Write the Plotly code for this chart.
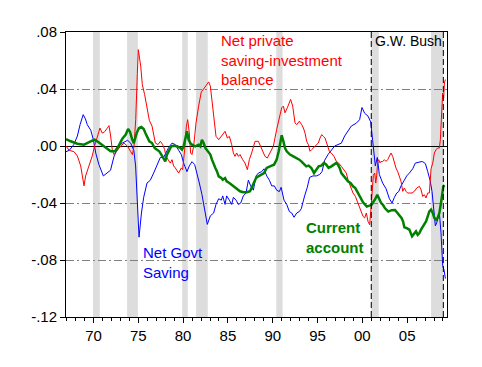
import plotly.graph_objects as go

# ---------------- data ----------------
gov_years = [1966.93, 1967.3, 1967.8, 1968.2, 1968.5, 1968.85, 1969.1, 1969.3, 1969.7, 1970.0,
             1970.25, 1970.6, 1971.1, 1971.5, 1971.9, 1972.3, 1972.85, 1973.2, 1973.8, 1974.15,
             1974.5, 1974.7, 1974.9, 1975.08, 1975.35, 1975.6, 1975.97, 1976.34, 1976.71, 1977.08,
             1977.46, 1977.83, 1978.09, 1978.39, 1978.76, 1979.13, 1979.5, 1979.8, 1980.06, 1980.43,
             1980.69, 1980.99, 1981.29, 1981.55, 1981.81, 1982.1, 1982.4, 1982.7, 1983.04, 1983.41,
             1983.67, 1983.97, 1984.26, 1984.42, 1984.68, 1984.86, 1985.16, 1985.42, 1985.61, 1985.91,
             1986.17, 1986.43, 1986.72, 1987.02, 1987.28, 1987.54, 1987.84, 1988.14, 1988.4, 1988.77,
             1989.03, 1989.33, 1989.63, 1989.89, 1990.18, 1990.44, 1990.74, 1990.94, 1991.26, 1991.56,
             1991.86, 1992.12, 1992.38, 1992.68, 1992.97, 1993.19, 1993.56, 1993.86, 1994.12, 1994.49,
             1994.87, 1995.24, 1995.5, 1995.8, 1996.17, 1996.54, 1996.91, 1997.28, 1997.66, 1998.03,
             1998.33, 1998.77, 1999.33, 1999.7, 1999.96, 2000.26, 2000.63, 2000.93, 2001.15, 2001.3,
             2001.45, 2001.67, 2001.9, 2002.27, 2002.65, 2003.02, 2003.32, 2003.58, 2003.84, 2004.06,
             2004.32, 2004.69, 2004.95, 2005.25, 2005.62, 2005.92, 2006.18, 2006.55, 2006.74, 2007.04,
             2007.3, 2007.56, 2007.78, 2007.93, 2008.15, 2008.3, 2008.6, 2008.78, 2008.9, 2008.97,
             2009.12, 2009.27]
gov_vals = [-0.004, -0.003, 0.001, 0.007, 0.015, 0.022, 0.019, 0.015, 0.011, 0.004,
            -0.005, -0.013, -0.021, -0.019, -0.017, -0.007, 0.000, 0.002, 0.004, 0.002,
            -0.003, -0.014, -0.037, -0.064, -0.047, -0.036, -0.026, -0.024, -0.019, -0.013,
            -0.008, -0.008, -0.005, -0.001, 0.002, 0.001, -0.003, -0.006, -0.012, -0.018,
            -0.014, -0.011, -0.013, -0.019, -0.026, -0.034, -0.045, -0.055, -0.049, -0.047,
            -0.041, -0.037, -0.038, -0.035, -0.041, -0.035, -0.038, -0.041, -0.036, -0.038,
            -0.041, -0.040, -0.035, -0.033, -0.024, -0.028, -0.031, -0.021, -0.019, -0.018,
            -0.016, -0.021, -0.024, -0.028, -0.028, -0.031, -0.032, -0.029, -0.038, -0.041,
            -0.046, -0.047, -0.050, -0.047, -0.046, -0.044, -0.035, -0.029, -0.022, -0.021,
            -0.021, -0.020, -0.018, -0.010, -0.006, -0.003, 0.000, 0.001, 0.002, 0.007,
            0.010, 0.014, 0.016, 0.0185, 0.027, 0.023, 0.021, 0.017, 0.004, -0.007,
            -0.014, -0.008, -0.020, -0.026, -0.030, -0.037, -0.040, -0.036, -0.033, -0.032,
            -0.028, -0.024, -0.021, -0.019, -0.016, -0.012, -0.0115, -0.011, -0.011, -0.0124,
            -0.0180, -0.024, -0.032, -0.042, -0.056, -0.054, -0.047, -0.061, -0.075, -0.084,
            -0.087, -0.093]

priv_years = [1966.93, 1967.27, 1967.82, 1968.2, 1968.57, 1968.94, 1969.12, 1969.49, 1969.86, 1970.12,
              1970.42, 1970.72, 1970.98, 1971.24, 1971.54, 1971.73, 1971.91, 1972.1, 1972.29, 1972.66,
              1973.04, 1973.41, 1973.78, 1974.15, 1974.34, 1974.52, 1974.71, 1974.89, 1975.0, 1975.27,
              1975.45, 1975.71, 1975.97, 1976.23, 1976.53, 1976.71, 1976.9, 1977.2, 1977.46, 1977.72,
              1977.94, 1978.09, 1978.31, 1978.57, 1978.76, 1978.94, 1979.13, 1979.32, 1979.5, 1979.8,
              1979.95, 1980.17, 1980.36, 1980.51, 1980.69, 1980.84, 1980.99, 1981.18, 1981.44, 1981.73,
              1982.03, 1982.29, 1982.55, 1982.85, 1983.04, 1983.22, 1983.41, 1983.67, 1983.97, 1984.26,
              1984.42, 1984.68, 1984.94, 1985.16, 1985.42, 1985.61, 1985.79, 1985.98, 1986.17, 1986.35,
              1986.65, 1986.91, 1987.17, 1987.39, 1987.65, 1987.84, 1988.03, 1988.4, 1988.66, 1988.88,
              1989.14, 1989.4, 1989.7, 1990.07, 1990.44, 1990.74, 1991.0, 1991.19, 1991.37, 1991.63,
              1991.86, 1992.0, 1992.23, 1992.49, 1992.68, 1992.97, 1993.23, 1993.42, 1993.6, 1993.79,
              1993.98, 1994.16, 1994.35, 1994.53, 1994.72, 1994.91, 1995.09, 1995.28, 1995.47, 1995.65,
              1995.84, 1996.02, 1996.32, 1996.54, 1996.84, 1997.1, 1997.36, 1997.66, 1997.95, 1998.21,
              1998.4, 1998.7,
              1998.96, 1999.22, 1999.52, 1999.81, 2000.08, 2000.26, 2000.45, 2000.63, 2000.82, 2000.97,
              2001.12, 2001.23, 2001.38, 2001.5, 2001.6, 2001.72, 2001.83, 2001.98, 2002.09, 2002.27,
              2002.46, 2002.65, 2002.83, 2003.02, 2003.2, 2003.39, 2003.58, 2003.76, 2003.95, 2004.13,
              2004.32, 2004.51, 2004.69, 2004.88, 2005.06, 2005.25, 2005.55, 2005.81, 2006.07, 2006.37,
              2006.55, 2006.74, 2006.92, 2007.11, 2007.3, 2007.48, 2007.6, 2007.67, 2007.86, 2008.04,
              2008.23, 2008.41, 2008.6, 2008.71, 2008.82, 2008.9, 2008.97, 2009.08, 2009.16, 2009.27]
priv_vals = [0.000, -0.003, -0.004, -0.007, -0.014, -0.028, -0.021, -0.014, -0.007, 0.000,
             0.007, 0.0126, 0.009, 0.010, 0.0126, 0.0143, 0.007, -0.003, -0.006, -0.003,
             0.000, 0.002, 0.000, -0.004, -0.006, 0.000, 0.0185, 0.051, 0.0676, 0.056,
             0.043, 0.036, 0.028, 0.018, 0.014, 0.0068, 0.0021, 0.001, 0.0033, 0.001,
             -0.0026, -0.0073, -0.0096, -0.012, -0.0096, -0.014, -0.0154, -0.0178, -0.019, -0.0154,
             -0.0166, -0.0026, 0.0138, 0.0185, 0.0091, -0.0049, -0.006, 0.0001, 0.0162, 0.028,
             0.038, 0.040, 0.042, 0.045, 0.042, 0.0325, 0.0185, 0.0068, 0.0044, 0.0068,
             0.008, 0.0103, 0.0056, 0.0068, 0.0009, -0.0049, -0.0073, -0.0049, -0.0073, -0.006,
             -0.0096, -0.012, -0.0166, -0.0096, -0.0049, -0.0002, 0.0033, 0.0033, -0.0002, -0.0037,
             -0.0073, -0.0084, -0.0049, -0.0002, 0.0116, 0.0209, 0.0268, 0.028, 0.0233, 0.0268,
             0.0303, 0.0327, 0.028, 0.0162, 0.015, 0.0174, 0.015, 0.0127, 0.0092, 0.0033,
             0.0009, -0.0037, -0.0025, -0.0014, -0.0002, 0.0009, 0.0021, 0.0056, 0.008, 0.0068,
             0.0056, 0.0021, -0.0037, -0.005, -0.0073, -0.0108, -0.012, -0.0143, -0.0166, -0.019,
             -0.0237, -0.0283,
             -0.033, -0.0353, -0.040, -0.0447, -0.0494, -0.0505, -0.047, -0.0529, -0.0552, -0.0435,
             -0.0306, -0.0206, -0.019, -0.026, -0.021, -0.0108, -0.0096, -0.0119, -0.0108, -0.0110,
             -0.0096, -0.0108, -0.0096, -0.0073, -0.0049, -0.0073, -0.0119, -0.0155, -0.018, -0.021,
             -0.0248, -0.0318, -0.0295, -0.0318, -0.033, -0.033, -0.033, -0.0318, -0.0295, -0.0283,
             -0.0306, -0.0354, -0.0342, -0.0365, -0.033, -0.0330, -0.021, -0.0160, -0.0119, -0.0049,
             -0.0026, -0.0014, -0.0014, 0.0044, 0.0185, 0.0279, 0.0372, 0.0337, 0.0442, 0.0466]

ca_years = [1966.93, 1967.45, 1968.2, 1968.94, 1969.68, 1970.12, 1970.42, 1971.17, 1971.91, 1972.4,
            1972.8, 1973.2, 1973.6, 1973.86, 1974.07, 1974.3, 1974.5, 1974.82, 1975.08, 1975.34,
            1975.6, 1975.8, 1975.97, 1976.23, 1976.53, 1976.82, 1977.08, 1977.34, 1977.57, 1977.83,
            1978.01, 1978.2, 1978.46, 1978.68, 1978.94, 1979.32, 1979.69, 1979.87, 1980.06, 1980.25,
            1980.43, 1980.62, 1980.8, 1980.99, 1981.36, 1981.73, 1981.92, 1982.1, 1982.29, 1982.48,
            1982.78, 1983.04, 1983.22, 1983.41, 1983.6, 1983.78, 1983.97, 1984.26, 1984.42, 1984.68,
            1984.86, 1985.16, 1985.42, 1985.68, 1985.98, 1986.35, 1986.72, 1987.1, 1987.47, 1987.65,
            1987.84, 1988.14, 1988.4, 1988.77, 1989.03, 1989.33, 1989.63, 1989.89, 1990.15, 1990.44,
            1990.67, 1990.82, 1991.0, 1991.19, 1991.37, 1991.56, 1991.93, 1992.3, 1992.68, 1992.97,
            1993.19, 1993.56, 1993.75, 1994.01, 1994.31, 1994.61, 1994.87, 1995.13, 1995.42, 1995.72,
            1995.98, 1996.24, 1996.54, 1996.84, 1997.1, 1997.28, 1997.47, 1997.66, 1997.95, 1998.21,
            1998.4, 1998.7, 1998.96, 1999.22, 1999.52, 1999.81, 2000.08, 2000.5, 2000.8, 2001.04,
            2001.2, 2001.4, 2001.67, 2001.9, 2002.1, 2002.3, 2002.53, 2002.9, 2003.27, 2003.65,
            2003.95, 2004.13, 2004.39, 2004.55, 2004.69, 2004.95, 2005.25, 2005.55,
            2005.81, 2005.99, 2006.18, 2006.37, 2006.55, 2006.74, 2006.92, 2007.11, 2007.3, 2007.48,
            2007.67, 2007.86, 2008.04, 2008.23, 2008.41, 2008.6, 2008.78, 2008.9, 2009.04, 2009.19]
ca_vals = [0.0049, 0.0033, 0.0016, 0.0009, 0.0033, 0.0044, 0.0033, -0.0002, -0.0037, -0.0037,
           0.000, 0.005, 0.008, 0.0119, 0.010, 0.005, 0.002, 0.0091, 0.0126, 0.0133,
           0.0119, 0.009, 0.0068, 0.0033, 0.0021, -0.0014, -0.0026, -0.0037, -0.006, -0.0084,
           -0.0108, -0.006, -0.0026, -0.0002, 0.0002, -0.0002, -0.0014, -0.0026, -0.0002, 0.0044,
           0.0103, 0.0044, 0.0021, 0.0009, -0.0002, 0.0009, -0.0002, 0.0044, 0.0021, -0.0014,
           -0.0037, -0.006, -0.0096, -0.0131, -0.0154, -0.0178, -0.0213, -0.0225, -0.0237, -0.0225,
           -0.0248, -0.026, -0.0272, -0.0283, -0.0295, -0.0318, -0.0325, -0.0325, -0.0318, -0.0295,
           -0.026, -0.0225, -0.0213, -0.0201, -0.019, -0.0154, -0.0143, -0.0138, -0.0131, -0.0096,
           -0.0037, 0.0021, 0.0075, 0.0033, -0.0014, -0.0037, -0.006, -0.0073, -0.0084, -0.0096,
           -0.0108, -0.0131, -0.0143, -0.0138, -0.0154, -0.019, -0.0166, -0.0143, -0.0138, -0.0119,
           -0.0131, -0.0154, -0.0143, -0.0131, -0.0119, -0.0131, -0.0154, -0.019, -0.0213, -0.0237,
           -0.0248, -0.026, -0.0283, -0.0295, -0.033, -0.0370, -0.0395, -0.0425, -0.0420, -0.0413,
           -0.0395, -0.0377, -0.0342, -0.0377, -0.0400, -0.0413, -0.0437, -0.0460, -0.0450, -0.0449,
           -0.0470, -0.0490, -0.0507, -0.0530, -0.0570, -0.0576, -0.0587, -0.0634,
           -0.0611, -0.0599, -0.0623, -0.0611, -0.0587, -0.0564, -0.0552, -0.0529, -0.0494, -0.0459,
           -0.0447, -0.047, -0.0505, -0.0517, -0.0505, -0.047, -0.040, -0.0353, -0.0283, -0.0276]

rec_start = [1969.94, 1973.75, 1979.9, 1981.45, 1990.4, 2001.0, 2007.67]
rec_end = [1970.7, 1974.95, 1980.52, 1982.75, 1991.1, 2001.83, 2009.05]
bush_lines = [2001.0, 2009.04]

x_ticks = [1970, 1975, 1980, 1985, 1990, 1995, 2000, 2005]
x_labels = ["70", "75", "80", "85", "90", "95", "00", "05"]
y_ticks = [0.08, 0.04, 0.0, -0.04, -0.08, -0.12]
y_labels = [".08", ".04", ".00", "-.04", "-.08", "-.12"]

FONT = "Liberation Sans, Arial, sans-serif"

fig = go.Figure()
fig.add_trace(go.Scatter(x=gov_years, y=gov_vals, mode="lines",
                         line=dict(color="#0000FF", width=1), hoverinfo="skip"))
fig.add_trace(go.Scatter(x=priv_years, y=priv_vals, mode="lines",
                         line=dict(color="#FF0000", width=1), hoverinfo="skip"))
fig.add_trace(go.Scatter(x=ca_years, y=ca_vals, mode="lines",
                         line=dict(color="#008000", width=2.5), hoverinfo="skip"))

shapes = []
for s, e in zip(rec_start, rec_end):
    shapes.append(dict(type="rect", xref="x", yref="paper", x0=s, x1=e, y0=0, y1=1,
                       fillcolor="#DDDDDD", line=dict(width=0), layer="below"))
for xv in bush_lines:
    shapes.append(dict(type="line", xref="x", yref="paper", x0=xv, x1=xv, y0=0, y1=1,
                       line=dict(color="black", width=1, dash="6px,3px"), layer="above"))

annotations = [
    dict(x=1984.0, y=0.0602, xref="x", yref="y", xanchor="left", yanchor="middle", align="left",
         text="Net private<br>saving-investment<br>balance", showarrow=False,
         font=dict(family=FONT, size=15, color="#FF0000")),
    dict(x=2001.2, y=0.0736, xref="x", yref="y", xanchor="left", yanchor="middle", align="left",
         text="G.W. Bush", showarrow=False, font=dict(family=FONT, size=14, color="black")),
    dict(x=1993.5, y=-0.0641, xref="x", yref="y", xanchor="left", yanchor="middle", align="left",
         text="<b>Current<br>account</b>", showarrow=False,
         font=dict(family=FONT, size=15, color="#008000")),
    dict(x=1975.3, y=-0.0816, xref="x", yref="y", xanchor="left", yanchor="middle", align="left",
         text="Net Govt<br>Saving", showarrow=False,
         font=dict(family=FONT, size=15, color="#0000FF")),
]

# the page body adds an 8px offset, so the figure is sized/margined to compensate
fig.update_layout(
    width=474, height=359, autosize=False,
    margin=dict(l=58, r=35, t=24, b=50),
    paper_bgcolor="white", plot_bgcolor="white",
    showlegend=False,
    font=dict(family=FONT, size=15, color="black"),
    shapes=shapes, annotations=annotations,
)
fig.update_xaxes(
    range=[1966.93, 2009.45], tickvals=x_ticks, ticktext=x_labels,
    showgrid=False, zeroline=False,
    showline=True, mirror=True, linecolor="black", linewidth=1,
    ticks="outside", ticklen=5, tickcolor="black", tickwidth=1,
    minor=dict(dtick=1, tick0=1970, ticks="outside", ticklen=3, tickcolor="black", showgrid=False),
    tickfont=dict(family=FONT, size=15, color="black"),
)
fig.update_yaxes(
    range=[-0.12, 0.08], tickvals=y_ticks, ticktext=y_labels,
    showgrid=True, gridcolor="#808080", gridwidth=1, griddash="8px,3px,2px,3px",
    zeroline=True, zerolinecolor="black", zerolinewidth=1,
    showline=True, mirror=True, linecolor="black", linewidth=1,
    ticks="outside", ticklen=5, tickcolor="black", tickwidth=1,
    tickfont=dict(family=FONT, size=15, color="black"),
)

fig.write_html("out.html")
